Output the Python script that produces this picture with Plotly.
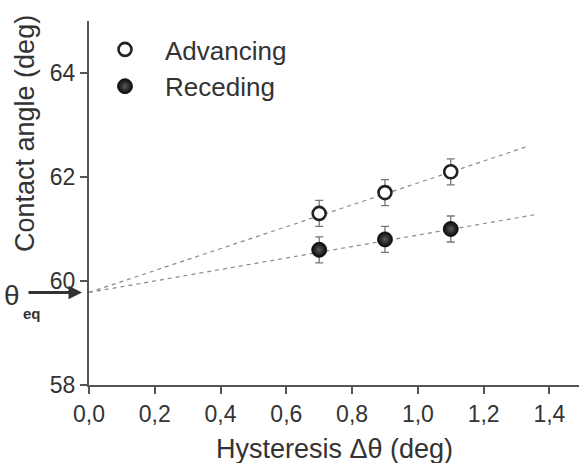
import plotly.graph_objects as go

# Data
hysteresis = [0.7, 0.9, 1.1]
advancing = [61.3, 61.7, 62.1]
receding = [60.6, 60.8, 61.0]
adv_err = [0.25, 0.25, 0.25]
rec_err = [0.25, 0.25, 0.25]
adv_fit_x = [0.0, 1.33]
adv_fit_y = [59.78, 62.58]
rec_fit_x = [0.0, 1.36]
rec_fit_y = [59.78, 61.28]
theta_eq = 59.78
x_ticks = [0.0, 0.2, 0.4, 0.6, 0.8, 1.0, 1.2, 1.4]
y_ticks = [58, 60, 62, 64]

FONT = "Liberation Sans, Arial, Helvetica, sans-serif"
TXT = "#333333"
AX = "#555555"

W, H = 579, 463
ML, MR, MT, MB = 89, 0, 21, 78
PW, PH = W - ML - MR, H - MT - MB


def px(xp):
    return (xp - ML) / PW


def py(yp):
    return (H - MB - yp) / PH


fig = go.Figure()

fig.add_trace(go.Scatter(x=adv_fit_x, y=adv_fit_y, mode="lines", showlegend=False,
                         line=dict(color="#8a8a8a", width=1.2, dash="4px,4px"),
                         hoverinfo="skip"))
fig.add_trace(go.Scatter(x=rec_fit_x, y=rec_fit_y, mode="lines", showlegend=False,
                         line=dict(color="#8a8a8a", width=1.2, dash="4px,4px"),
                         hoverinfo="skip"))

fig.add_trace(go.Scatter(
    x=hysteresis, y=advancing, mode="markers", name="Advancing",
    error_y=dict(type="data", array=adv_err, color="#777777", thickness=1.3, width=4),
    marker=dict(symbol="circle", size=13, color="white",
                line=dict(color="#222222", width=2.6)),
))
fig.add_trace(go.Scatter(
    x=hysteresis, y=receding, mode="markers", name="Receding",
    error_y=dict(type="data", array=rec_err, color="#777777", thickness=1.3, width=4),
    marker=dict(symbol="circle", size=15, color="#080808",
                gradient=dict(type="radial", color="#5a5a5a"),
                line=dict(color="#080808", width=0.8)),
))

axis_common = dict(
    showline=True, linecolor=AX, linewidth=2, showgrid=False, zeroline=False,
    ticks="outside", ticklen=7, tickwidth=1.5, tickcolor=AX,
    tickfont=dict(family=FONT, size=23, color=TXT),
)

fig.update_xaxes(range=[0, 1.49], tickvals=x_ticks, tickformat=".1f", **axis_common)
fig.update_yaxes(range=[58, 65], tickvals=y_ticks, **axis_common)

annotations = [
    dict(text="Contact angle (deg)", textangle=-90, xref="paper", yref="paper",
         x=px(25), y=py(134), xanchor="center", yanchor="middle", showarrow=False,
         font=dict(family=FONT, size=27, color=TXT)),
    dict(text="Hysteresis \u0394\u03b8 (deg)", xref="paper", yref="paper",
         x=px(334), y=py(449), xanchor="center", yanchor="middle", showarrow=False,
         font=dict(family=FONT, size=27, color=TXT)),
    dict(text="\u03b8", xref="paper", yref="paper", x=px(12), y=py(295),
         xanchor="center", yanchor="middle",
         showarrow=False, font=dict(family=FONT, size=28, color=TXT)),
    dict(text="<b>eq</b>", xref="paper", yref="paper", x=px(32), y=py(313),
         xanchor="center", yanchor="middle",
         showarrow=False, font=dict(family=FONT, size=15, color=TXT)),
    dict(text="", x=0, y=theta_eq, xref="x", yref="y", showarrow=True,
         ax=-62, ay=0, standoff=7, arrowhead=2, arrowsize=0.9, arrowwidth=3,
         arrowcolor="#333333"),
]

fig.update_layout(
    width=W, height=H,
    margin=dict(l=ML, r=MR, t=MT, b=MB),
    paper_bgcolor="white", plot_bgcolor="white",
    separators=",.",
    annotations=annotations,
    showlegend=True,
    legend=dict(x=px(85), y=py(26), xanchor="left", yanchor="top",
                font=dict(family=FONT, size=26, color=TXT),
                bgcolor="rgba(0,0,0,0)", tracegroupgap=0, itemwidth=70),
)

fig.write_html("out.html", config={"displayModeBar": False},
               post_script="document.body.style.margin='0';document.body.style.padding='0';")
